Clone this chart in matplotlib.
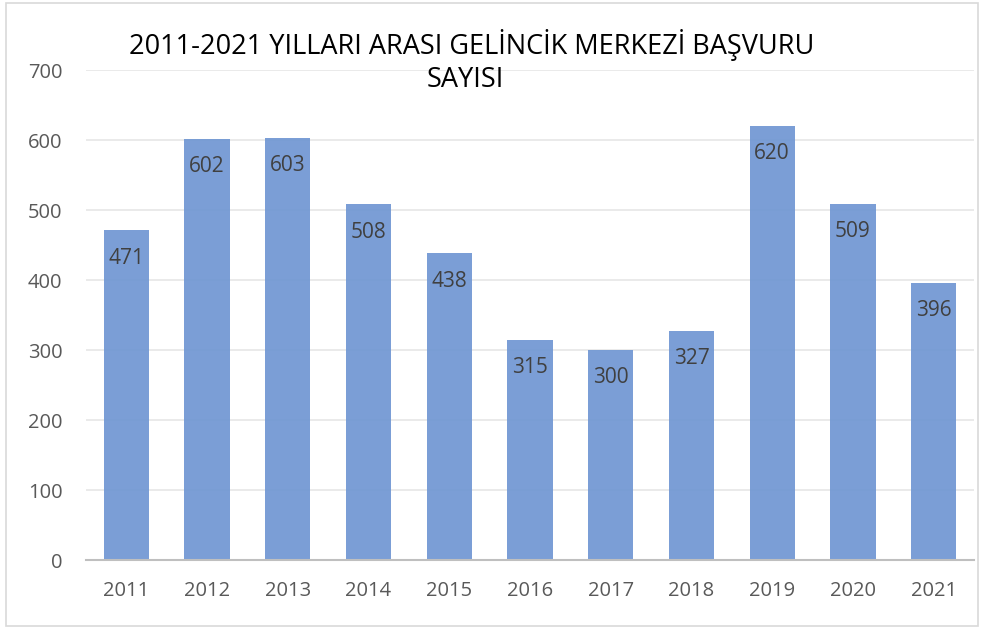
import matplotlib.pyplot as plt
from matplotlib.patches import Rectangle

years = ['2011', '2012', '2013', '2014', '2015', '2016', '2017', '2018', '2019', '2020', '2021']
counts = [471, 602, 603, 508, 438, 315, 300, 327, 620, 509, 396]
yticks = [0, 100, 200, 300, 400, 500, 600, 700]

plt.rcParams['font.family'] = ['Open Sans', 'DejaVu Sans']

fig = plt.figure(figsize=(9.82, 6.28), dpi=100)
ax = fig.add_axes([86 / 982, 1 - 560 / 628, 888 / 982, 490 / 628])

x = range(len(years))
bars = ax.bar(x, counts, width=0.56, color='#7197d3', alpha=0.93, zorder=2)

# etiketler
for xi, v in zip(x, counts):
    ax.annotate(str(v), (xi, v), xytext=(0, -20), textcoords='offset points',
                ha='center', va='center', fontsize=15, color='#404040', zorder=3)

ax.set_xlim(-0.5, len(years) - 0.5)
ax.set_ylim(0, 700)
ax.set_yticks(yticks)
ax.set_xticks(list(x))
ax.set_xticklabels(years)
ax.yaxis.grid(True, color='#e6e6e6', linewidth=1.2, zorder=1)
ax.set_axisbelow(True)
for s in ['top', 'right', 'left']:
    ax.spines[s].set_visible(False)
ax.spines['bottom'].set_color('#bfbfbf')
ax.spines['bottom'].set_linewidth(1.5)
ax.spines['bottom'].set_zorder(3)
ax.tick_params(axis='both', length=0, labelsize=14.5, colors='#595959')
ax.tick_params(axis='y', pad=17)
ax.tick_params(axis='x', pad=15)

fig.text(472 / 982, 1 - 45 / 628, '2011-2021 YILLARI ARASI GELİNCİK MERKEZİ BAŞVURU',
         ha='center', va='center', fontsize=19.5, color='black')
fig.text(465 / 982, 1 - 80 / 628, 'SAYISI', ha='center', va='center', fontsize=19.5, color='black')

fig.patches.append(Rectangle((6 / 982, 2 / 628), 972 / 982, 623 / 628, transform=fig.transFigure,
                             fill=False, edgecolor='#d9d9d9', linewidth=1.2))

fig.savefig('out.png', dpi=100)
